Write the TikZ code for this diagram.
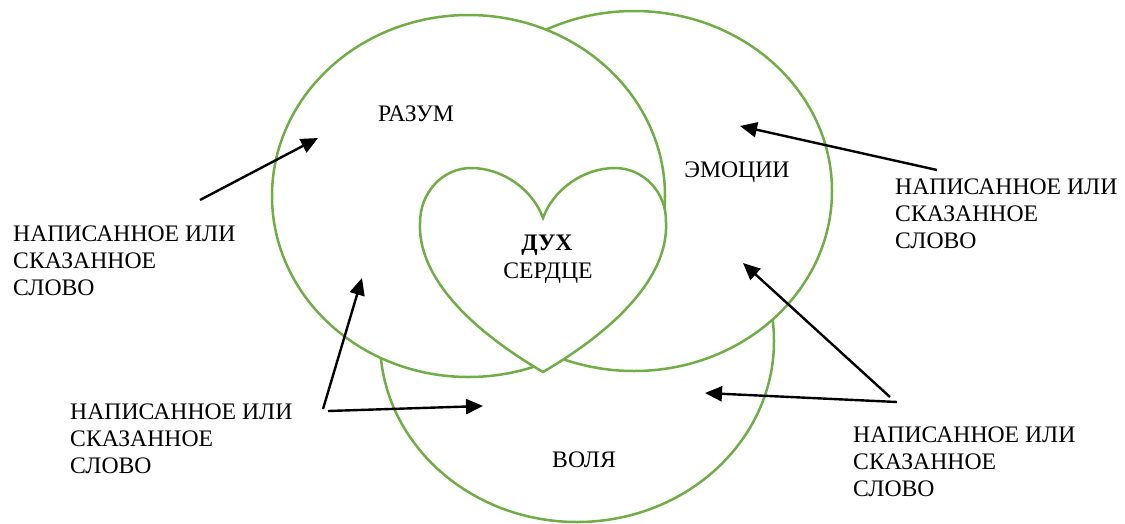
\documentclass[tikz,border=0pt]{standalone}
\usepackage{fontspec}
\setmainfont{Liberation Serif}
\usetikzlibrary{arrows.meta,shapes.geometric}
\definecolor{vgreen}{RGB}{112,173,71}
\begin{document}
\begin{tikzpicture}[x=1pt,y=-1pt,
  ring/.style={draw=vgreen, line width=2.5pt, fill=white, ellipse, inner sep=0pt, minimum width=394pt, minimum height=362pt},
  lbl/.style={font=\fontsize{23.7}{27}\selectfont, inner sep=0pt, anchor=base},
  note/.style={font=\fontsize{23.7}{27}\selectfont, inner sep=0pt, align=left, anchor=north west},
  arr/.style={draw=black, line width=2.4pt, -{Triangle[length=17pt,width=15pt]}},
  heartline/.style={draw=vgreen, line width=2.5pt, fill=white, line join=miter}]
\useasboundingbox (0,0) rectangle (1125,523);

% circles
\node[ring] (volya) at (577,341) {};
\node[ring, minimum width=396pt, minimum height=360pt] (emo) at (634,191) {};
\node[ring, minimum width=393pt] (razum) at (468.5,196) {};

% heart
\draw[heartline] (543,372) .. controls (458,322) and (418,270) .. (420,223)
  .. controls (420,192) and (443,168) .. (471,168)
  .. controls (503,168) and (533,190) .. (543,218)
  .. controls (553,190) and (583,168) .. (615,168)
  .. controls (643,168) and (667,192) .. (666,223)
  .. controls (668,270) and (628,322) .. (543,372) -- cycle;

% labels
\node[lbl] (lrazum) at (416,121) {РАЗУМ};
\node[lbl] (lemo) at (737,177) {ЭМОЦИИ};
\node[lbl] (lduh) at (547,250) {\bfseries ДУХ};
\node[lbl] (lserd) at (548,278) {СЕРДЦЕ};
\node[lbl] (lvolya) at (584,467) {ВОЛЯ};

% notes
\node[note] (n1) at (13,226) {НАПИСАННОЕ ИЛИ\\СКАЗАННОЕ\\СЛОВО};
\node[note] (n2) at (70,404) {НАПИСАННОЕ ИЛИ\\СКАЗАННОЕ\\СЛОВО};
\node[note] (n3) at (895,179) {НАПИСАННОЕ ИЛИ\\СКАЗАННОЕ\\СЛОВО};
\node[note] (n4) at (853,427) {НАПИСАННОЕ ИЛИ\\СКАЗАННОЕ\\СЛОВО};

% arrows
\coordinate (a1s) at (200,200); \coordinate (a1e) at (318,138);
\coordinate (a2s) at (937,170); \coordinate (a2e) at (740,126);
\coordinate (a3s) at (890,397); \coordinate (a3e) at (743,263);
\coordinate (a4s) at (897,402); \coordinate (a4e) at (705,393);
\coordinate (a5s) at (323,409); \coordinate (a5e) at (362,278);
\coordinate (a6s) at (328,411); \coordinate (a6e) at (483,406);
\draw[arr] (a1s) -- (a1e);
\draw[arr] (a2s) -- (a2e);
\draw[arr] (a3s) -- (a3e);
\draw[arr] (a4s) -- (a4e);
\draw[arr] (a5s) -- (a5e);
\draw[arr] (a6s) -- (a6e);
\end{tikzpicture}
\end{document}
